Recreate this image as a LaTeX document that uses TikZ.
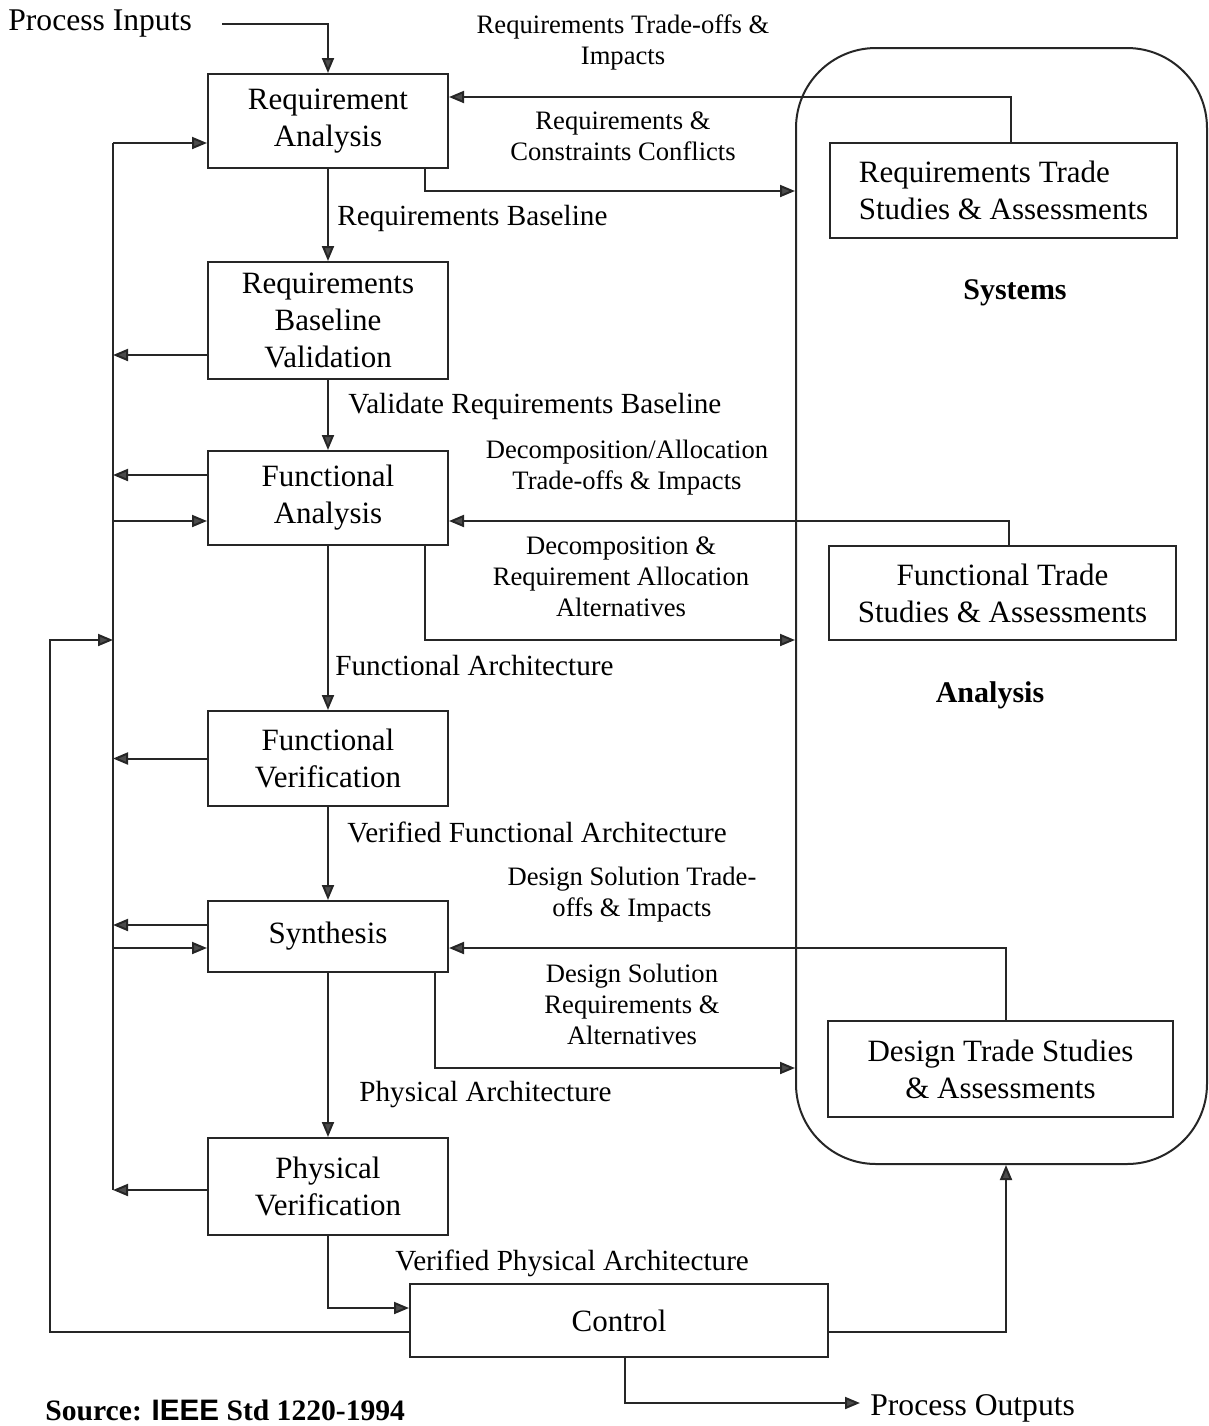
\documentclass[tikz,border=0pt]{standalone}
\usepackage{fontspec}
\setmainfont{Liberation Serif}
\newfontfamily\srcsans{Liberation Sans}
\usetikzlibrary{arrows.meta}
\begin{document}
\begin{tikzpicture}[x=0.5pt,y=-0.5pt,
 every node/.style={inner sep=0pt, text=black},
 blk/.style={draw=black!85, line width=1pt, align=center, font=\fontsize{15.5}{18.5}\selectfont, minimum width=120pt},
 lbl/.style={align=center, font=\fontsize{13.3}{15.5}\selectfont},
 slbl/.style={anchor=west, font=\fontsize{14.6}{17}\selectfont},
 big/.style={font=\fontsize{15.8}{19}\selectfont},
 hd/.style={font=\bfseries\fontsize{15}{18}\selectfont},
 ln/.style={line width=1pt, draw=black!85},
 arr/.style={ln, -{Triangle[length=7.5pt,width=6pt,fill=black!70]}},
]
\useasboundingbox (0,0) rectangle (1209,1426);

% systems analysis frame
\node[draw=black!85, line width=1pt, rounded corners=40pt, minimum width=205.5pt, minimum height=558pt] (sys) at (1001.5,606) {};

% main chain
\node[blk, minimum height=47pt] (ra) at (328,121) {Requirement\\Analysis};
\node[blk, minimum height=58.5pt] (rbv) at (328,320.5) {Requirements\\Baseline\\Validation};
\node[blk, minimum height=47pt] (fa) at (328,498) {Functional\\Analysis};
\node[blk, minimum height=47.5pt] (fv) at (328,758.5) {Functional\\Verification};
\node[blk, minimum height=35.5pt] (syn) at (328,936.5) {Synthesis};
\node[blk, minimum height=48.5pt] (pv) at (328,1186.5) {Physical\\Verification};
\node[blk, minimum width=209pt, minimum height=36.5pt] (ctl) at (619,1320.5) {Control};

% trade studies
\node[blk, align=left, minimum width=173.5pt, minimum height=47.5pt] (rts) at (1003.5,190.5) {Requirements Trade\\Studies \& Assessments};
\node[blk, minimum width=173.5pt, minimum height=47pt] (fts) at (1002.5,593) {Functional Trade\\Studies \& Assessments};
\node[blk, minimum width=172.5pt, minimum height=48pt] (dts) at (1000.5,1069) {Design Trade Studies\\\& Assessments};

% free texts
\node[big, anchor=west] (pin) at (8,24) {Process Inputs};
\node[big, anchor=west] (pout) at (870,1408) {Process Outputs};
\node[anchor=west, font=\bfseries\fontsize{14.8}{17}\selectfont] (src) at (45,1410) {Source: {\srcsans\bfseries IEEE} Std 1220-1994};
\node[hd] (systxt) at (1015,293) {Systems};
\node[hd] (antxt) at (990,695) {Analysis};

% labels
\node[lbl] (l1) at (623,42.5) {Requirements Trade-offs \&\\Impacts};
\node[lbl] (l2) at (623,136.5) {Requirements \&\\Constraints Conflicts};
\node[slbl] (l3) at (337,218) {Requirements Baseline};
\node[slbl] (l4) at (348,406) {Validate Requirements Baseline};
\node[lbl] (l5) at (627,467.5) {Decomposition/Allocation\\Trade-offs \& Impacts};
\node[lbl] (l6) at (621,577) {Decomposition \&\\Requirement Allocation\\Alternatives};
\node[slbl] (l7) at (335,666) {Functional Architecture};
\node[slbl] (l8) at (347,832) {Verified Functional Architecture};
\node[lbl] (l9) at (632,894.5) {Design Solution Trade-\\offs \& Impacts};
\node[lbl] (l10) at (632,1004) {Design Solution\\Requirements \&\\Alternatives};
\node[slbl] (l11) at (359,1095) {Physical Architecture};
\node[slbl] (l12) at (395,1263) {Verified Physical Architecture};

% helper coordinates
\coordinate (i1) at (222,24);
\coordinate (h1) at (1011,97);
\coordinate (h2) at (425,191);
\coordinate (f1) at (1009,521);
\coordinate (f2) at (425,640);
\coordinate (d1) at (1006,948);
\coordinate (d2) at (435,1068);
\coordinate (bt) at (113,143);
\coordinate (bb) at (113,1190);
\coordinate (y355) at (0,355);
\coordinate (y475) at (0,475);
\coordinate (y521) at (0,521);
\coordinate (y925) at (0,925);
\coordinate (y948) at (0,948);
\coordinate (o1) at (50,640);
\coordinate (o2) at (0,1332);
\coordinate (c1) at (1006,1332);
\coordinate (p1) at (0,1308);
\coordinate (q1) at (625,1403);

% process inputs
\draw[arr] (pin.east -| i1) -| (ra.north);

% main chain arrows
\draw[arr] (ra) -- (rbv);
\draw[arr] (rbv) -- (fa);
\draw[arr] (fa) -- (fv);
\draw[arr] (fv) -- (syn);
\draw[arr] (syn) -- (pv);

% trade study loops
\draw[arr] (rts.north -| h1) |- (ra.east |- h1);
\draw[arr] (ra.south -| h2) |- (sys.west |- h2);
\draw[arr] (fts.north -| f1) |- (fa.east |- f1);
\draw[arr] (fa.south -| f2) |- (sys.west |- f2);
\draw[arr] (dts.north -| d1) |- (syn.east |- d1);
\draw[arr] (syn.south -| d2) |- (sys.west |- d2);

% left bus
\draw[ln] (bt) -- (bb);
\draw[arr] (bt) -- (ra.west |- bt);
\draw[arr] (rbv.west |- y355) -- (bt |- y355);
\draw[arr] (fa.west |- y475) -- (bt |- y475);
\draw[arr] (bt |- y521) -- (fa.west |- y521);
\draw[arr] (fv.west) -- (fv.west -| bt);
\draw[arr] (syn.west |- y925) -- (bt |- y925);
\draw[arr] (bt |- y948) -- (syn.west |- y948);
\draw[arr] (pv.west |- bb) -- (bb);

% control
\draw[arr] (pv.south) |- (ctl.west |- p1);
\draw[arr] (ctl.west |- o2) -| (o1) -- (bt |- o1);
\draw[arr] (ctl.east |- c1) -| (sys.south -| c1);
\draw[arr, shorten >=5pt] (ctl.south -| q1) |- (pout.west |- q1);
\end{tikzpicture}
\end{document}
